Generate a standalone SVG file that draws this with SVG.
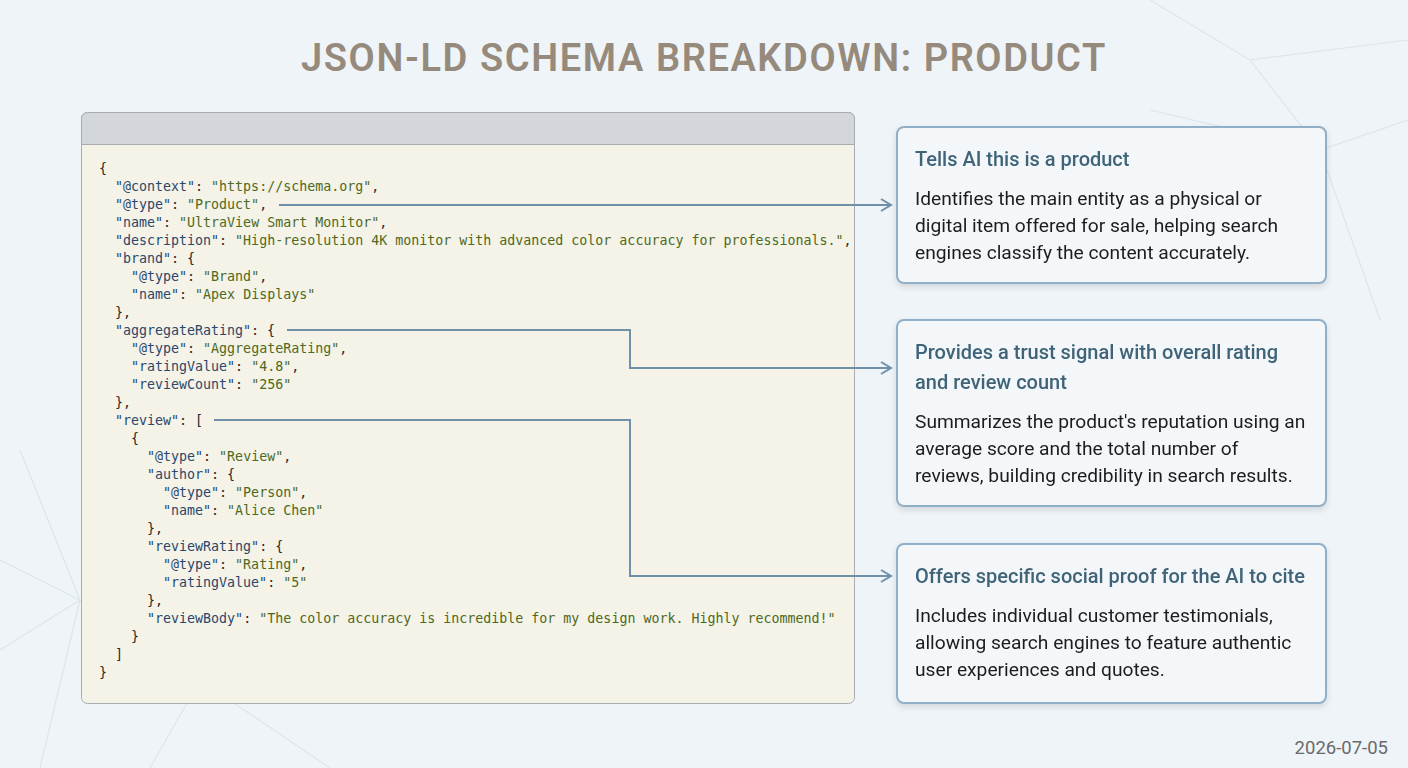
<svg xmlns="http://www.w3.org/2000/svg" width="1408" height="768" viewBox="0 0 1408 768">
<defs>
<style>
.code{font-family:"DejaVu Sans Mono","Liberation Mono",monospace;font-size:13.3px;fill:#2a2a2a;white-space:pre}
.k{fill:#2a4868}.s{fill:#4d6a22}
.ct{font-family:Roboto,"Liberation Sans",sans-serif;font-size:20px;font-weight:500;fill:#3f6478}
.cb{font-family:Roboto,"Liberation Sans",sans-serif;font-size:19.2px;fill:#1e1e1e}
.card{fill:#f3f7fa;stroke:#8fb0c8;stroke-width:2}
.conn{fill:none;stroke:#6e90ab;stroke-width:2}
</style>
<marker id="arr" markerWidth="14" markerHeight="14" refX="12" refY="7" orient="auto" markerUnits="userSpaceOnUse"><path d="M2,1 L12,7 L2,13" fill="none" stroke="#6e90ab" stroke-width="2"/></marker>
<filter id="sh" x="-10%" y="-10%" width="120%" height="130%"><feDropShadow dx="0" dy="3" stdDeviation="3" flood-color="#000" flood-opacity="0.12"/></filter>
</defs>
<rect width="1408" height="768" fill="#eff4f8"/>
<g stroke="#dde5ec" stroke-width="1.2" fill="none">
<path d="M1150,0 L1250,60 L1408,40 M1250,60 L1320,150 L1408,120 M1320,150 L1380,320 M1150,110 L1320,150"/>
<path d="M0,560 L80,600 L40,768 M80,600 L200,680 L150,768 M0,650 L80,600 M200,680 L330,768 M20,450 L80,600"/>
</g>
<text x="704" y="71" text-anchor="middle" font-family="Roboto,'Liberation Sans',sans-serif" font-weight="600" font-size="38" letter-spacing="1.6" fill="#958a7c">JSON-LD SCHEMA BREAKDOWN: PRODUCT</text>
<g id="code-panel">
<rect x="81.500" y="112.500" width="773" height="591" rx="6" fill="#f5f2e8" stroke="#a8acb0"/>
<path d="M81.500,144.500 V118.500 a6,6 0 0 1 6,-6 H848.500 a6,6 0 0 1 6,6 V144.500 Z" fill="#d3d7db" stroke="#a8acb0"/>
<text class="code">
<tspan x="99" y="173">{</tspan>
<tspan x="99" y="191">  <tspan class="k">"@context"</tspan>: <tspan class="s">"https://schema.org"</tspan>,</tspan>
<tspan x="99" y="209">  <tspan class="k">"@type"</tspan>: <tspan class="s">"Product"</tspan>,</tspan>
<tspan x="99" y="227">  <tspan class="k">"name"</tspan>: <tspan class="s">"UltraView Smart Monitor"</tspan>,</tspan>
<tspan x="99" y="245">  <tspan class="k">"description"</tspan>: <tspan class="s">"High-resolution 4K monitor with advanced color accuracy for professionals."</tspan>,</tspan>
<tspan x="99" y="263">  <tspan class="k">"brand"</tspan>: {</tspan>
<tspan x="99" y="281">    <tspan class="k">"@type"</tspan>: <tspan class="s">"Brand"</tspan>,</tspan>
<tspan x="99" y="299">    <tspan class="k">"name"</tspan>: <tspan class="s">"Apex Displays"</tspan></tspan>
<tspan x="99" y="317">  },</tspan>
<tspan x="99" y="335">  <tspan class="k">"aggregateRating"</tspan>: {</tspan>
<tspan x="99" y="353">    <tspan class="k">"@type"</tspan>: <tspan class="s">"AggregateRating"</tspan>,</tspan>
<tspan x="99" y="371">    <tspan class="k">"ratingValue"</tspan>: <tspan class="s">"4.8"</tspan>,</tspan>
<tspan x="99" y="389">    <tspan class="k">"reviewCount"</tspan>: <tspan class="s">"256"</tspan></tspan>
<tspan x="99" y="407">  },</tspan>
<tspan x="99" y="425">  <tspan class="k">"review"</tspan>: [</tspan>
<tspan x="99" y="443">    {</tspan>
<tspan x="99" y="461">      <tspan class="k">"@type"</tspan>: <tspan class="s">"Review"</tspan>,</tspan>
<tspan x="99" y="479">      <tspan class="k">"author"</tspan>: {</tspan>
<tspan x="99" y="497">        <tspan class="k">"@type"</tspan>: <tspan class="s">"Person"</tspan>,</tspan>
<tspan x="99" y="515">        <tspan class="k">"name"</tspan>: <tspan class="s">"Alice Chen"</tspan></tspan>
<tspan x="99" y="533">      },</tspan>
<tspan x="99" y="551">      <tspan class="k">"reviewRating"</tspan>: {</tspan>
<tspan x="99" y="569">        <tspan class="k">"@type"</tspan>: <tspan class="s">"Rating"</tspan>,</tspan>
<tspan x="99" y="587">        <tspan class="k">"ratingValue"</tspan>: <tspan class="s">"5"</tspan></tspan>
<tspan x="99" y="605">      },</tspan>
<tspan x="99" y="623">      <tspan class="k">"reviewBody"</tspan>: <tspan class="s">"The color accuracy is incredible for my design work. Highly recommend!"</tspan></tspan>
<tspan x="99" y="641">    }</tspan>
<tspan x="99" y="659">  ]</tspan>
<tspan x="99" y="677">}</tspan>
</text>
</g>
<g id="connectors">
<path class="conn" d="M279,205 H891" marker-end="url(#arr)"/>
<path class="conn" d="M287,330 H630 V368 H891" marker-end="url(#arr)"/>
<path class="conn" d="M214,420 H630 V576 H891" marker-end="url(#arr)"/>
</g>
<g id="card1" filter="url(#sh)">
<rect class="card" x="897" y="127" width="429" height="156" rx="7"/>
<text class="ct" x="915" y="166">Tells AI this is a product</text>
<text class="cb"><tspan x="915" y="205">Identifies the main entity as a physical or</tspan><tspan x="915" y="232">digital item offered for sale, helping search</tspan><tspan x="915" y="259">engines classify the content accurately.</tspan></text>
</g>
<g id="card2" filter="url(#sh)">
<rect class="card" x="897" y="320" width="429" height="186" rx="7"/>
<text class="ct"><tspan x="915" y="359">Provides a trust signal with overall rating</tspan><tspan x="915" y="389">and review count</tspan></text>
<text class="cb"><tspan x="915" y="428">Summarizes the product's reputation using an</tspan><tspan x="915" y="455">average score and the total number of</tspan><tspan x="915" y="482">reviews, building credibility in search results.</tspan></text>
</g>
<g id="card3" filter="url(#sh)">
<rect class="card" x="897" y="544" width="429" height="159" rx="7"/>
<text class="ct" x="915" y="583">Offers specific social proof for the AI to cite</text>
<text class="cb"><tspan x="915" y="622">Includes individual customer testimonials,</tspan><tspan x="915" y="649">allowing search engines to feature authentic</tspan><tspan x="915" y="676">user experiences and quotes.</tspan></text>
</g>
<text x="1388" y="754" text-anchor="end" font-family="Roboto,'Liberation Sans',sans-serif" font-size="18.5" fill="#6a6a6a">2026-07-05</text>
</svg>
